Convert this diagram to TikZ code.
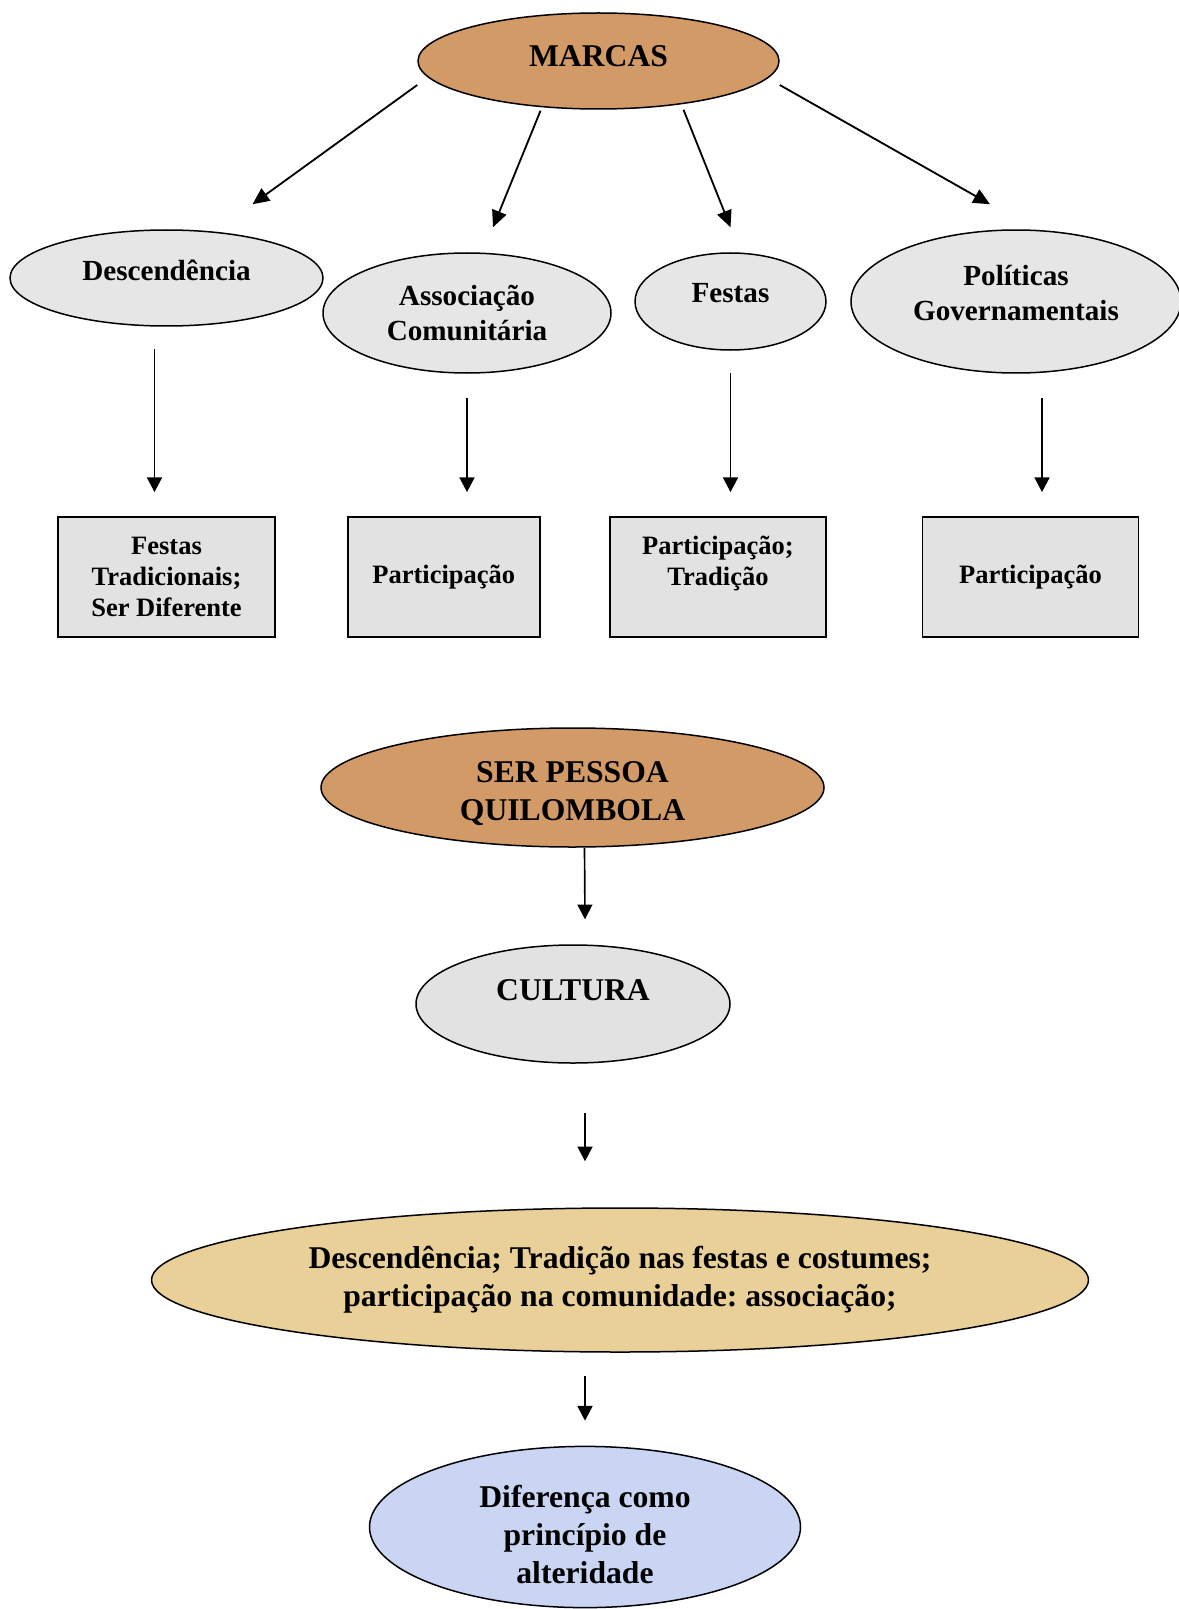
\documentclass[tikz,border=0pt]{standalone}
\usepackage{fontspec}
\setmainfont{Liberation Serif}
\usepackage{xcolor}
\usepackage{tikz}
\usetikzlibrary{
  arrows.meta,
  positioning,
  calc,
  shapes.geometric
}
\definecolor{woodcolor}{HTML}{D29A66}
\definecolor{granitecolor}{HTML}{E6E6E6}
\definecolor{marblecolor}{HTML}{E2E2E2}
\definecolor{papyruscolor}{HTML}{E9CF98}
\definecolor{tissuecolor}{HTML}{C9D5F2}
\newcommand{\lift}[2]{\raisebox{#1}[\height][\depth]{#2}}
\newcommand{\lines}[1]{\begin{tabular}{@{}c@{}}#1\end{tabular}}
\frenchspacing

\begin{document}
\begin{tikzpicture}[
  x=0.6pt, y=-0.6pt,
  oval/.style={draw, ellipse, line width=0.9pt, inner sep=0pt, align=center},
  card/.style={draw, rectangle, line width=1.1pt, inner sep=0pt, align=center,
    minimum height=72pt, fill=marblecolor, font=\bfseries\fontsize{15.9}{18.5}\selectfont},
  big/.style={font=\bfseries\fontsize{19}{22.8}\selectfont},
  mid/.style={font=\bfseries\fontsize{17.5}{21}\selectfont},
  arr/.style={-{Triangle[length=10pt, width=9pt]}, line width=1.1pt},
  varr/.style={-{Triangle[length=8.8pt, width=9pt]}, line width=1pt},
]
  \useasboundingbox (0,0) rectangle (1179,1609);

  % Top
  \node[oval, big, fill=woodcolor, minimum width=216.6pt, minimum height=57.6pt] (marcas)
    at (598.5,61) {\lift{3pt}{MARCAS}};

  % Marks
  \node[oval, mid, fill=granitecolor, minimum width=187.8pt, minimum height=57.6pt] (desc)
    at (166.5,278) {\lift{4.8pt}{Descendência}};
  \node[oval, mid, fill=granitecolor, minimum width=172.8pt, minimum height=72pt] (assoc)
    at (467,313) {\lift{-1.5pt}{\lines{Associação\\Comunitária}}};
  \node[oval, mid, fill=granitecolor, minimum width=114.6pt, minimum height=58.2pt] (festas)
    at (730.5,301.5) {\lift{4.8pt}{Festas}};
  \node[oval, mid, fill=granitecolor, minimum width=198pt, minimum height=85.8pt] (pol)
    at (1016,301.5) {\lift{3pt}{\lines{Políticas\\Governamentais}}};

  % Cards
  \node[card, minimum width=130.2pt] (card1) at (166.5,577) {Festas\\Tradicionais;\\Ser Diferente};
  \node[card, minimum width=115.2pt, right=42.6pt of card1] (card2) {Participação};
  \node[card, minimum width=129.6pt, right=41pt of card2] (card3)
    {\lift{8pt}{\lines{Participação;\\Tradição}}};
  \node[card, minimum width=129.6pt, right=56.8pt of card3] (card4) {Participação};

  % Arrows from the top
  \draw[arr] ($(marcas.west)+(0,24)$) -- ($(desc.north)+(86,-25)$);
  \draw[arr] ($(marcas.south)+(-58,1)$) -- ($(assoc.north)+(26,-25)$);
  \draw[arr] ($(marcas.south)+(85,0)$) -- ($(festas.north)+(0,-25)$);
  \draw[arr] ($(marcas.east)+(0,24)$) -- ($(pol.north)+(-26,-25)$);

  % Arrows to the cards
  \draw[varr, shorten >=14.4pt] ($(desc.south)+(-12,22)$) coordinate (t1) -- (t1 |- card1.north);
  \draw[varr, shorten >=14.4pt] ($(assoc.south)+(0,24)$) coordinate (t2) -- (t2 |- card2.north);
  \draw[varr, shorten >=14.4pt] ($(festas.south)+(0,22)$) coordinate (t3) -- (t3 |- card3.north);
  \draw[varr, shorten >=14.4pt] ($(pol.south)+(26,24)$) coordinate (t4) -- (t4 |- card4.north);

  % Lower chain
  \node[oval, big, fill=woodcolor, minimum width=301.8pt, minimum height=71.4pt] (ser)
    at (572.5,787.5) {\lift{-3.6pt}{\lines{SER PESSOA\\QUILOMBOLA}}};
  \node[oval, big, fill=marblecolor, minimum width=188.4pt, minimum height=70.8pt] (cultura)
    at (573,1004) {\lift{8.4pt}{CULTURA}};
  \node[oval, big, fill=papyruscolor, minimum width=562.2pt, minimum height=86.4pt] (traits)
    at (620,1280) {\lines{Descendência; Tradição nas festas e costumes;\\participação na comunidade: associação;}};
  \node[oval, big, fill=tissuecolor, minimum width=258.6pt, minimum height=94.8pt] (alter)
    at (585,1527) {\lift{-6.6pt}{\lines{Diferença como\\princípio de\\alteridade}}};

  \draw[varr] ($(ser.south)+(12,0)$) -- ($(cultura.north)+(12,-25)$);
  \draw[varr] ($(cultura.south)+(12,49)$) -- ($(traits.north)+(-35,-46)$);
  \draw[varr] ($(traits.south)+(-35,23)$) -- ($(alter.north)+(0,-25)$);
\end{tikzpicture}
\end{document}
